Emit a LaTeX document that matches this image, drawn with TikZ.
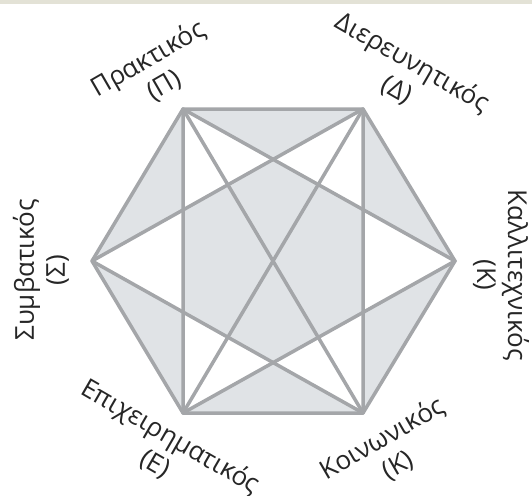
\documentclass[tikz,border=0pt]{standalone}
\usepackage{fontspec}
\setmainfont{Open Sans}
\usepackage{tikz}
\definecolor{edgegray}{HTML}{A4A6A9}
\definecolor{fillgray}{HTML}{E0E3E6}
\definecolor{textgray}{HTML}{262626}
\definecolor{bandgray}{HTML}{E3E2D6}
\tikzset{lbl/.style={align=center, text=textgray, inner sep=0pt,
    font=\fontsize{26}{31}\selectfont}}

\begin{document}
\begin{tikzpicture}[x=1pt,y=-1pt,line width=3.5pt]
        \useasboundingbox (0,0) rectangle (532,495);
        \fill[bandgray] (0,0) rectangle (532,4);
        \coordinate (P) at (183,109);
        \coordinate (D) at (363,109);
        \coordinate (Kr) at (455,261);
        \coordinate (Kb) at (363,413);
        \coordinate (E) at (183,413);
        \coordinate (S) at (92,261);
        % shaded star
        \fill[fillgray, even odd rule] (P)--(D)--(Kr)--(Kb)--(E)--(S)--cycle
            (P)--(Kr)--(E)--cycle (D)--(Kb)--(S)--cycle;
        \draw[edgegray, line join=round] (P)--(D)--(Kr)--(Kb)--(E)--(S)--cycle;
        \draw[edgegray, line join=round] (P)--(Kr)--(E)--cycle;
        \draw[edgegray, line join=round] (D)--(Kb)--(S)--cycle;
        \draw[edgegray] (P)--(Kb);
        \draw[edgegray] (D)--(E);
        % labels
        \node[lbl, rotate=30] (lp) at (156,72) {Πρακτικός\\(Π)};
        \node[lbl, rotate=-30] (ld) at (405,76) {Διερευνητικός\\(Δ)};
        \node[lbl, rotate=-90] (lkr) at (501,275) {Καλλιτεχνικός\\(Κ)};
        \node[lbl, rotate=90] (ls) at (41,270) {Συμβατικός\\(Σ)};
        \node[lbl, rotate=-30] (le) at (163,450) {Επιχειρηματικός\\(Ε)};
        \node[lbl, rotate=30] (lkb) at (390,452) {Κοινωνικός\\(Κ)};
\end{tikzpicture}
\end{document}
